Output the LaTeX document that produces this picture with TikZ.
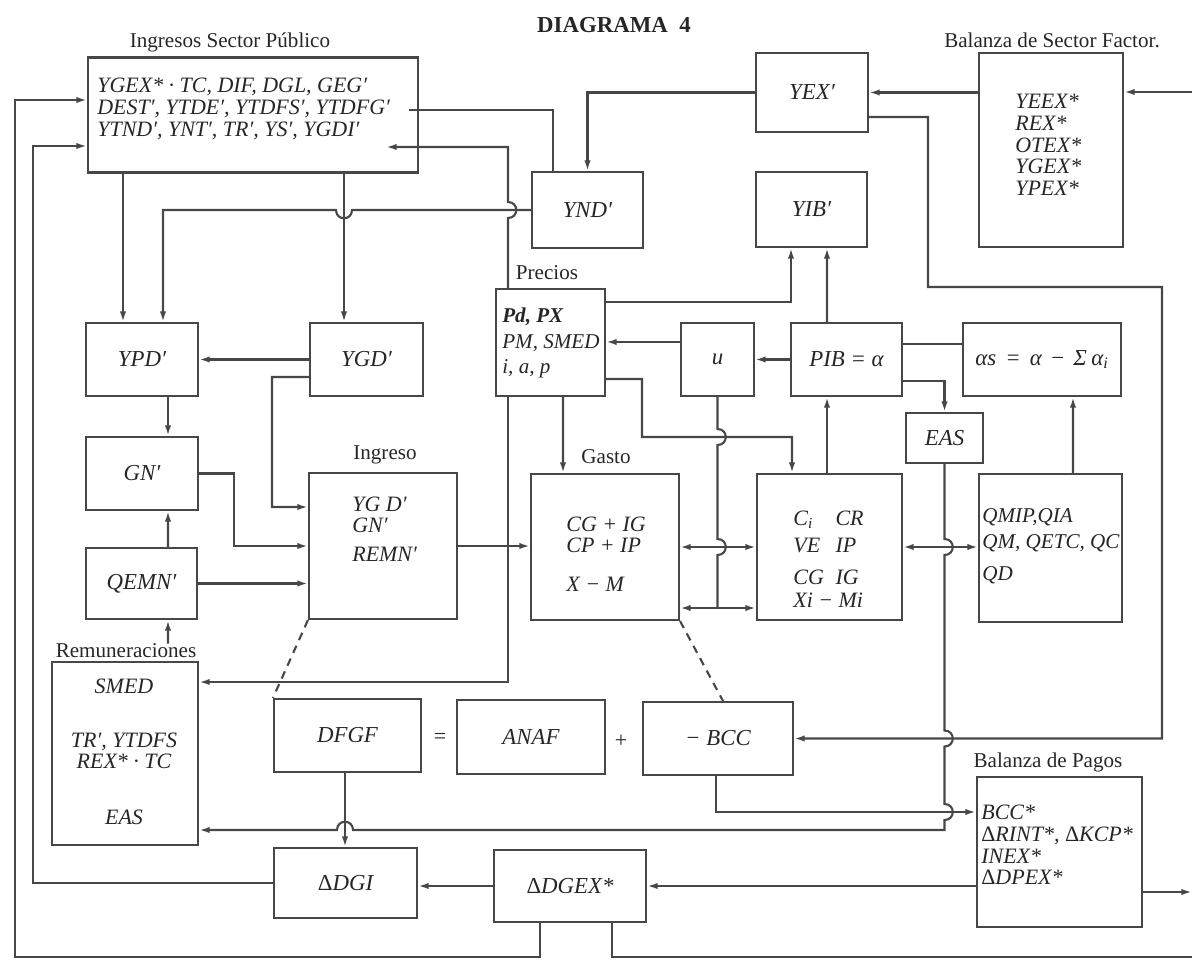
\documentclass[tikz,border=0pt]{standalone}
\usepackage{fontspec}
\setmainfont{Liberation Serif}
\usetikzlibrary{arrows.meta,calc}
\definecolor{ink}{HTML}{262626}
\definecolor{wire}{HTML}{474747}
\newcommand{\dlt}{{\upshape Δ}}

\begin{document}
\begin{tikzpicture}[x=0.02cm, y=-0.02cm,
  >={Latex[length=6pt,width=3.6pt]},
  blk/.style 2 args={draw=wire, line width=1.2pt, minimum width=#1*0.02cm, minimum height=#2*0.02cm, inner sep=0pt, font=\fontsize{13}{12}\selectfont\itshape, text=ink},
  txt/.style={font=\fontsize{12.5}{12.3}\selectfont\itshape, text=ink, align=left, inner sep=0pt},
  capt/.style={font=\fontsize{12}{13}\selectfont, text=ink, inner sep=0pt},
  conn/.style={draw=wire, line width=1.2pt},
  arr/.style={conn, ->},
  dbl/.style={conn, <->},
]
\useasboundingbox (0,0) rectangle (1192,960);

\node[font=\fontsize{13}{15}\selectfont\bfseries, text=ink] (title) at (614,25) {DIAGRAMA\ \ 4};
\node[capt] (capisp) at (230,42) {Ingresos Sector Público};
\node[capt] (capbsf) at (1052,40) {Balanza de Sector Factor.};
\node[capt] (capprec) at (547,273) {Precios};
\node[capt] (caping) at (385,455) {Ingreso};
\node[capt] (capgas) at (606,457) {Gasto};
\node[capt] (caprem) at (126,651) {Remuneraciones};
\node[capt] (capbp) at (1048,762) {Balanza de Pagos};

\node[blk={330}{115}] (isp) at (253,115) {};
\node[txt, anchor=west] (isptxt) at (97,109) {YGEX* · TC, DIF, DGL, GEG′\\DEST′, YTDE′, YTDFS′, YTDFG′\\YTND′, YNT′, TR′, YS′, YGDI′};
\node[blk={112}{79}] (yex) at (812,92.5) {YEX′};
\node[blk={144}{194}] (bsf) at (1051,150) {};
\node[txt, anchor=west] (bsftxt) at (1015,145) {YEEX*\\REX*\\OTEX*\\YGEX*\\YPEX*};
\node[blk={111}{76}] (ynd) at (587.5,210) {YND′};
\node[blk={111}{75}] (yib) at (811.5,209.5) {YIB′};

\node[blk={109}{107}] (prec) at (550.5,342.5) {};
\node[txt, font=\fontsize{12}{12}\selectfont\itshape, anchor=west] (prectxt) at (502,343) {{\bfseries Pd, PX}\\[2.5pt]PM, SMED\\[2.5pt]i, a, p};
\node[blk={112}{73}] (ypd) at (142,359.5) {YPD′};
\node[blk={113}{73}] (ygd) at (366.5,359.5) {YGD′};
\node[blk={73}{73}] (u) at (717.5,359.5) {u};
\node[blk={111}{73}] (pib) at (846.5,359.5) {PIB = α};
\node[blk={158}{73}] (alps) at (1042,359.5) {αs\hspace{0.4em}=\hspace{0.4em}α\hspace{0.35em}−\hspace{0.35em}Σ\hspace{0.2em}α\textsubscript{i}};
\node[blk={77}{50}] (eas) at (944.5,438) {EAS};

\node[blk={112}{73}] (gn) at (142,473.5) {GN′};
\node[blk={148}{146}] (ing) at (383,546) {};
\node[txt, anchor=west] (ingtxt) at (352,529) {YG D′\\GN′\\[4pt]REMN′};
\node[blk={148}{146}] (gas) at (605,547) {};
\node[txt, anchor=west] (gastxt) at (566,554) {CG + IG\\CP + IP\\[9.5pt]X − M};
\node[blk={145}{146}] (ci) at (829.5,547) {};
\node[txt, anchor=west] (citxt) at (793,559) {\makebox[24pt][l]{C\textsubscript{i}}CR\\[3pt]\makebox[24pt][l]{VE}IP\\[5.8pt]\makebox[24pt][l]{CG}IG\\[0.7pt]Xi − Mi};
\node[blk={143}{148}] (qm) at (1050.5,548) {};
\node[txt, font=\fontsize{12}{12}\selectfont\itshape, anchor=west] (qmtxt) at (982,546) {QMIP,QIA\\[2.7pt]QM, QETC, QC\\[6pt]QD};
\node[blk={111}{71}] (qemn) at (141.5,583.5) {QEMN′};

\node[blk={146}{183}] (rem) at (125,753.5) {};
\node[txt, align=center] (remtxt) at (124,752) {SMED\\[18pt]TR′, YTDFS\\REX* · TC\\[19.5pt]EAS};
\node[blk={147}{73}] (dfgf) at (347.5,735.5) {DFGF};
\node[txt] (eq) at (440,738) {\upshape =};
\node[blk={148}{74}] (anaf) at (531,737) {ANAF};
\node[txt] (plus) at (621,741) {\upshape +};
\node[blk={150}{73}] (bcc) at (718,738.5) {− BCC};
\node[blk={165}{150}] (bp) at (1059.5,852) {};
\node[txt, anchor=west] (bptxt) at (981,845) {BCC*\\\dlt RINT*, \dlt KCP*\\INEX*\\\dlt DPEX*};
\node[blk={143}{70}] (dgi) at (345.5,883) {\dlt DGI};
\node[blk={152}{72}] (dgex) at (570,886) {\dlt DGEX*};

\coordinate (rtop) at (1192,92);
\coordinate (rbot) at (1192,892);
\coordinate (rlow) at (1192,957);

\draw[arr] (yex.west) -| (ynd.north);
\draw[arr] (bsf.west |- yex.east) -- (yex.east);
\draw[arr] (rtop) -- (rtop -| bsf.east);
\draw[arr] ($(yex.east)+(0,24.5)$) -- (928,117) -- (928,287) -- (1162,287) |- (bcc.east);
\draw[conn] ($(isp.east)+(-10,-5)$) -| ($(ynd.north)+(-34.5,0)$);
\draw[arr] (ynd.west) -- (352,210) .. controls (352,221) and (336,221) .. (336,210) -- (163,210) -- ($(ypd.north)+(21,0)$);
\draw[arr] ($(isp.south)+(-130,0)$) -- ($(ypd.north)+(-19,0)$);
\draw[arr] ($(isp.south)+(91,0)$) -- ($(ygd.north)+(-22.5,0)$);
\draw[arr] ($(prec.north)+(-42.5,0)$) -- (508,218) .. controls (519,218) and (519,202) .. (508,202) -- (508,147) -- ($(isp.east)+(-33,32)$);
\draw[arr] ($(prec.south)+(-42.5,0)$) |- ($(rem.east)+(0,-71.5)$);
\draw[arr] ($(prec.east)+(0,-40.5)$) -| ($(yib.south)+(-20.5,0)$);
\draw[arr] ($(pib.north)+(-19.5,0)$) -- ($(yib.south)+(15.5,0)$);

\draw[arr] (ygd.west) -- (ypd.east);
\draw[arr] ($(ygd.west)+(0,17.5)$) -- (272,377) |- ($(ing.west)+(0,-39)$);
\draw[arr] ($(ypd.south)+(26,0)$) -- ($(gn.north)+(26,0)$);
\draw[arr] (gn.east) -- (234,473.5) |- (ing.west);
\draw[arr] (qemn.east) -- (qemn.east -| ing.west);
\draw[arr] ($(qemn.north)+(26.5,0)$) -- ($(gn.south)+(26,0)$);
\draw[arr] ($(caprem.north)+(42,0)$) -- ($(qemn.south)+(26.5,0)$);
\draw[arr] (ing.east) -- (ing.east -| gas.west);
\draw[arr] ($(prec.south)+(12.5,0)$) -- ($(gas.north)+(-42,0)$);
\draw[arr] ($(prec.east)+(0,36.5)$) -- (642,379) -- (642,437) -| ($(ci.north)+(-37.5,0)$);
\draw[arr] ($(u.west)+(0,-17.5)$) -- ($(prec.east)+(0,-0.5)$);
\draw[arr] (pib.west) -- (u.east);
\draw[conn] ($(pib.east)+(0,-15.5)$) -- ($(alps.west)+(0,-15.5)$);
\draw[arr] ($(pib.east)+(0,21.5)$) -| (eas.north);
\draw[arr] ($(qm.north)+(22.5,0)$) -- ($(alps.south)+(31,0)$);
\draw[arr] ($(ci.north)+(-2.5,0)$) -- ($(pib.south)+(-19.5,0)$);
\draw[conn] (u.south) -- (717.5,429) .. controls (728.5,429) and (728.5,445) .. (717.5,445) -- (717.5,539) .. controls (728.5,539) and (728.5,555) .. (717.5,555) -- (717.5,608);
\draw[dbl] (gas.east) -- (ci.west);
\draw[dbl] ($(gas.east)+(0,61)$) -- ($(ci.west)+(0,61)$);
\draw[dbl] (ci.east) -- (ci.east -| qm.west);

\draw[arr] (eas.south) -- (944.5,539) .. controls (955.5,539) and (955.5,555) .. (944.5,555) -- (944.5,730.5) .. controls (955.5,730.5) and (955.5,746.5) .. (944.5,746.5) -- (944.5,804) .. controls (955.5,804) and (955.5,820) .. (944.5,820) -- (944.5,830) -- (353,830) .. controls (353,819) and (337,819) .. (337,830) -- ($(rem.east)+(0,76.5)$);
\draw[arr] ($(bcc.south)+(-2,0)$) |- ($(bp.west)+(0,-40)$);
\draw[arr] (bp.west |- dgex.east) -- (dgex.east);
\draw[arr] ($(bp.east)+(0,40)$) -- (rbot);
\draw[arr] (dgex.west) -- (dgex.west -| dgi.east);
\draw[arr] (dgi.west) -- (33,883) |- ($(isp.west)+(0,31)$);
\draw[arr] ($(dgex.south)+(-30,0)$) -- (540,957) -- (15,957) |- ($(isp.west)+(0,-15)$);
\draw[conn] ($(dgex.south)+(42,0)$) |- (rlow);
\draw[arr] ($(dfgf.south)+(-2.5,0)$) -- ($(dgi.north)+(-0.5,0)$);
\draw[conn, dash pattern=on 4.5pt off 3.5pt] (ing.south west) -- (dfgf.north west);
\draw[conn, dash pattern=on 4.5pt off 3.5pt] (gas.south east) -- ($(bcc.north)+(5,0)$);

\end{tikzpicture}
\end{document}
